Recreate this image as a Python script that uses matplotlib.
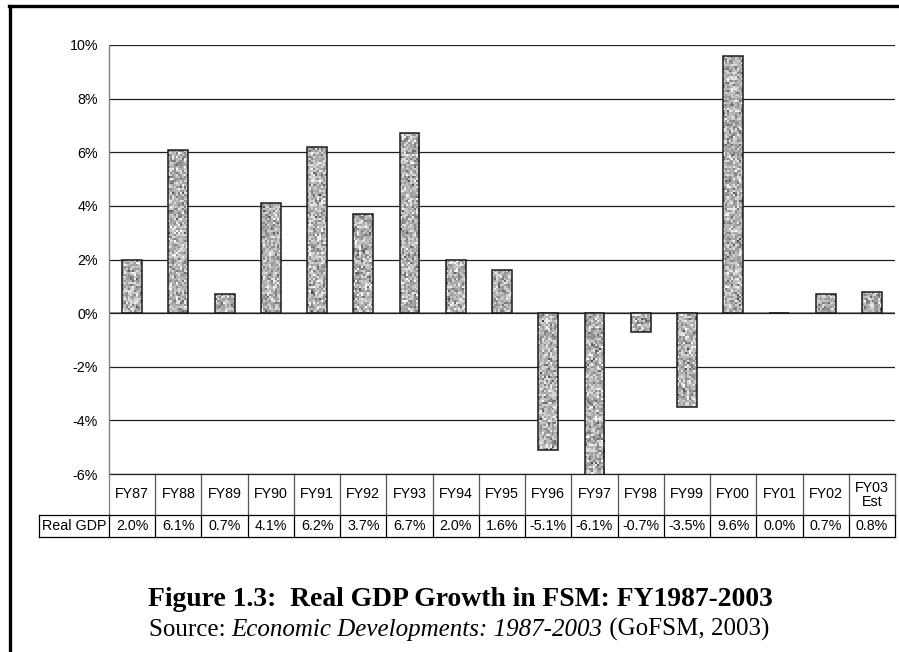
import numpy as np
import matplotlib
matplotlib.use("Agg")
import matplotlib.pyplot as plt
from matplotlib.lines import Line2D
from matplotlib.transforms import blended_transform_factory

years = ["FY87", "FY88", "FY89", "FY90", "FY91", "FY92", "FY93", "FY94", "FY95",
         "FY96", "FY97", "FY98", "FY99", "FY00", "FY01", "FY02", "FY03\nEst"]
real_gdp = [2.0, 6.1, 0.7, 4.1, 6.2, 3.7, 6.7, 2.0, 1.6,
            -5.1, -6.1, -0.7, -3.5, 9.6, 0.0, 0.7, 0.8]
row_label = "Real GDP"
y_ticks = [-6, -4, -2, 0, 2, 4, 6, 8, 10]

W, H = 899, 652
fig = plt.figure(figsize=(W / 100, H / 100), dpi=100)
fig.patch.set_facecolor("white")

# axes placed in pixel terms of the reference
left, right, top, bottom = 109, 895, 45, 474
ax = fig.add_axes([left / W, 1 - bottom / H, (right - left) / W, (bottom - top) / H])

x = np.arange(len(years))
bars = ax.bar(x, real_gdp, width=0.43, facecolor="none", edgecolor="#1a1a1a",
              linewidth=1.1, zorder=3)

# granite-like fill for each bar (pure texture, not data)
rng = np.random.default_rng(7)
for b in bars:
    tex = rng.normal(0.70, 0.14, size=(215, 10))
    im = ax.imshow(tex, cmap="gray", vmin=0, vmax=1, aspect="auto",
                   extent=[b.get_x(), b.get_x() + b.get_width(), -6, 10],
                   interpolation="nearest", zorder=2)
    im.set_clip_path(b)

ax.set_xlim(-0.5, len(years) - 0.5)
ax.set_ylim(-6, 10)
ax.set_yticks(y_ticks)
ax.set_yticklabels([f"{v}%" for v in y_ticks], fontfamily="Liberation Sans", fontsize=10.3)
ax.tick_params(axis="y", length=0, pad=8)
ax.set_xticks([])
ax.grid(axis="y", color="#202020", linewidth=0.9, zorder=0)
for s in ["top", "right", "bottom"]:
    ax.spines[s].set_visible(False)
ax.spines["left"].set_color("#808080")
ax.spines["left"].set_linewidth(1.0)
ax.axhline(0, color="#808080", linewidth=1.2, zorder=1)

# data table below the plot
tr = blended_transform_factory(ax.transData, ax.transAxes)
ph = bottom - top
r0, r1, r2 = 0.0, -(515 - bottom) / ph, -(537 - bottom) / ph
lab_left = -0.5 - (left - 39) / ((right - left) / len(years))
tfont = dict(fontfamily="Liberation Sans", fontsize=10.3, ha="center", va="center",
             transform=tr, clip_on=False)
line_kw = dict(lw=0.9, transform=tr, clip_on=False)
for i, (yr, v) in enumerate(zip(years, real_gdp)):
    xl = i - 0.5
    ax.add_line(Line2D([xl + 1, xl + 1], [r0, r1], color="#555555", **line_kw))
    ax.add_line(Line2D([xl + 1, xl + 1], [r1, r2], color="black", **line_kw))
    ax.text(i, (r0 + r1) / 2, yr, linespacing=1.0, **tfont)
    ax.text(i, (r1 + r2) / 2, f"{v:.1f}%", **tfont)
ax.add_line(Line2D([-0.5, len(years) - 0.5], [r0, r0], color="#202020", **line_kw))
ax.add_line(Line2D([-0.5, -0.5], [r0, r1], color="#808080", **line_kw))
ax.add_line(Line2D([lab_left, len(years) - 0.5], [r1, r1], color="black", **line_kw))
ax.add_line(Line2D([lab_left, len(years) - 0.5], [r2, r2], color="black", **line_kw))
for xv in (lab_left, -0.5):
    ax.add_line(Line2D([xv, xv], [r1, r2], color="black", **line_kw))
ax.text((lab_left - 0.5) / 2, (r1 + r2) / 2, row_label, **tfont)

# page frame (left and top edges only)
fig.add_artist(Line2D([9.5 / W, 9.5 / W], [0, 1 - 5.5 / H], color="black", lw=2.4))
fig.add_artist(Line2D([8.5 / W, 1], [1 - 6 / H, 1 - 6 / H], color="black", lw=2.4))

# caption
fig.text(460 / W, 1 - 606 / H, "Figure 1.3:  Real GDP Growth in FSM: FY1987-2003",
         fontfamily="Liberation Serif", fontweight="bold", fontsize=19.9,
         ha="center", va="baseline")

# source line in three pieces (normal / italic / normal), centred as a whole
pieces = [("Source: ", "normal"), ("Economic Developments: 1987-2003", "italic"),
          (" (GoFSM, 2003)", "normal")]
texts = [fig.text(0, 1 - 636 / H, s, fontfamily="Liberation Serif", fontstyle=st,
                  fontsize=18, ha="left", va="baseline") for s, st in pieces]
fig.canvas.draw()
rend = fig.canvas.get_renderer()
widths = [t.get_window_extent(rend).width for t in texts]
xpos = 459 - sum(widths) / 2
for t, w in zip(texts, widths):
    t.set_x(xpos / W)
    xpos += w

fig.savefig("out.png", dpi=100)
